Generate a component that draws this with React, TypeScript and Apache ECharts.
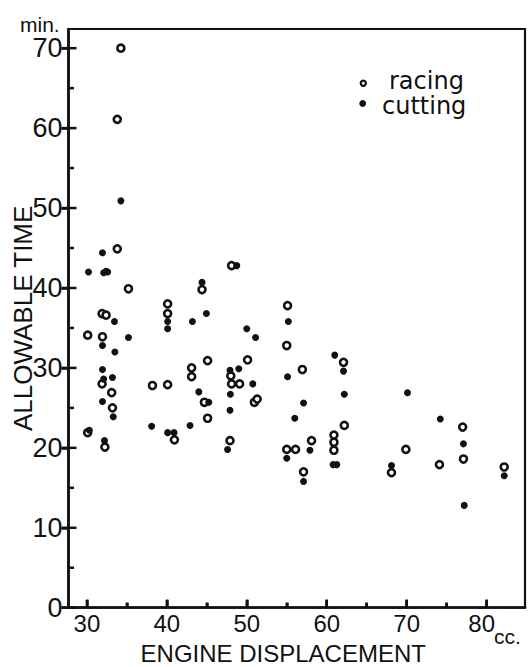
import { useEffect, useRef } from "react";
import * as echarts from "echarts";

// Engine displacement (cc) and allowable working time (min) per saw model
const racingDisplacement = [
  34.25, 33.8, 33.8, 35.2, 31.9, 32.4, 30.1, 31.95, 31.9, 33.1, 33.2, 30.1, 32.25,
  38.2, 40.1, 40.1, 40.1, 40.95, 43.1, 43.1, 44.4, 48.1, 55.1, 55.0, 45.1, 50.1,
  48.0, 48.1, 49.1, 44.7, 50.95, 51.3, 45.1, 47.9, 56.95, 55.0, 56.1, 58.1, 57.1,
  62.1, 62.2, 60.9, 60.9, 60.9, 69.9, 68.1, 74.1, 77.0, 77.1, 82.2,
];
const racingTime = [
  70.0, 61.1, 44.9, 39.9, 36.8, 36.6, 34.1, 33.9, 28.0, 26.9, 25.0, 21.9, 20.1,
  27.8, 38.0, 36.8, 27.9, 21.0, 30.0, 28.9, 39.8, 42.8, 37.8, 32.8, 30.9, 31.0,
  29.0, 28.0, 28.0, 25.7, 25.7, 26.1, 23.7, 20.9, 29.8, 19.8, 19.8, 20.9, 17.0,
  30.7, 22.8, 21.6, 20.7, 19.7, 19.8, 16.9, 17.9, 22.6, 18.6, 17.6,
];

const cuttingDisplacement = [
  34.25, 31.95, 30.2, 32.1, 32.4, 32.6, 33.45, 31.95, 35.2, 33.5, 31.95, 32.1, 33.2,
  31.95, 33.3, 30.3, 32.2, 38.1, 40.1, 40.1, 40.1, 40.9, 43.2, 42.9, 44.0, 44.4,
  44.95, 50.0, 51.1, 48.75, 55.2, 47.9, 49.0, 50.75, 47.95, 45.25, 47.9, 47.6, 55.1,
  57.1, 56.0, 55.0, 57.9, 57.1, 61.0, 62.1, 62.2, 60.8, 61.25, 70.1, 68.1, 74.2,
  77.1, 77.2, 82.2,
];
const cuttingTime = [
  50.9, 44.4, 42.0, 41.9, 42.1, 42.0, 35.8, 32.8, 33.8, 32.0, 29.8, 28.6, 28.8,
  25.8, 23.9, 22.2, 20.9, 22.7, 35.8, 34.9, 21.9, 21.9, 35.8, 22.8, 27.0, 40.7,
  36.8, 34.9, 33.8, 42.8, 35.8, 29.7, 29.9, 28.0, 26.7, 25.7, 24.7, 19.8, 28.9,
  25.6, 23.7, 18.7, 19.7, 15.8, 31.6, 29.6, 26.7, 17.9, 17.9, 26.9, 17.8, 23.6,
  20.5, 12.8, 16.5,
];

const xMajorTicks = [30, 40, 50, 60, 70, 80];
const xMinorTicks = [35, 45, 55, 65, 75];
const yMajorTicks = [0, 10, 20, 30, 40, 50, 60, 70];
const yMinorTicks = [5, 15, 25, 35, 45, 55, 65];
const seriesNames = ["racing", "cutting"];

// Plot frame extent in data units
const X_MIN = 27.7;
const X_MAX = 84.8;
const Y_MIN = 0;
const Y_MAX = 72.4;

const WIDTH = 529;
const HEIGHT = 667;
const GRID_LEFT = 68.5;
const GRID_RIGHT = 4;
const GRID_TOP = 29;
const GRID_BOTTOM = 59.3;

// tick mark sizes (px)
const TICK_W = 2.5;
const X_MAJOR_LEN = 8;
const X_MINOR_LEN = 5;
const Y_MAJOR_OUT = 7;
const Y_MAJOR_IN = 8;
const Y_MINOR_IN = 5.5;

const INK = "#111";
const SANS = '"Liberation Sans", Arial, sans-serif';
const LEGEND_FONT = '"DejaVu Sans", "Liberation Sans", sans-serif';

const zip = (xs: number[], ys: number[]) => xs.map((x, i) => [x, ys[i]]);

// Linear scales of the data grid (same mapping ECharts uses for grid 0)
const pxPerX = (WIDTH - GRID_LEFT - GRID_RIGHT) / (X_MAX - X_MIN);
const pxPerY = (HEIGHT - GRID_TOP - GRID_BOTTOM) / (Y_MAX - Y_MIN);
const xToPx = (x: number) => GRID_LEFT + (x - X_MIN) * pxPerX;
const yToPx = (y: number) => HEIGHT - GRID_BOTTOM - (y - Y_MIN) * pxPerY;

// The labelled scale lives on a second grid whose extent is the tick range;
// it is placed so that its pixels line up with the data grid.
const xTickMin = xMajorTicks[0];
const xTickMax = xMajorTicks[xMajorTicks.length - 1];
const yTickMin = yMajorTicks[0];
const yTickMax = yMajorTicks[yMajorTicks.length - 1];
const scaleLeft = xToPx(xTickMin);
const scaleRight = WIDTH - xToPx(xTickMax);
const scaleTop = yToPx(yTickMax);
const scaleBottom = HEIGHT - yToPx(yTickMin);
const yAxisOffset = scaleLeft - GRID_LEFT;

const rect = (x: number, y: number, w: number, h: number) => ({
  type: "rect",
  silent: true,
  z: 100,
  shape: { x, y, width: w, height: h },
  style: { fill: INK },
});

// Tick marks on the frame edges
const tickGraphics = [
  ...xMajorTicks.map((v) =>
    rect(xToPx(v) - TICK_W / 2, yToPx(Y_MIN) - X_MAJOR_LEN, TICK_W, X_MAJOR_LEN),
  ),
  ...xMinorTicks.map((v) =>
    rect(xToPx(v) - TICK_W / 2, yToPx(Y_MIN) - X_MINOR_LEN, TICK_W, X_MINOR_LEN),
  ),
  ...yMajorTicks.map((v) =>
    rect(GRID_LEFT - Y_MAJOR_OUT, yToPx(v) - TICK_W / 2, Y_MAJOR_OUT + Y_MAJOR_IN, TICK_W),
  ),
  ...yMinorTicks.map((v) => rect(GRID_LEFT, yToPx(v) - TICK_W / 2, Y_MINOR_IN, TICK_W)),
];

const textGraphics = [
  // unit of the time axis
  {
    type: "text",
    left: 20,
    top: 14,
    silent: true,
    style: { text: "min.", fontFamily: SANS, fontSize: 21, lineHeight: 16, fill: INK },
  },
  // unit after the last displacement label
  {
    type: "text",
    left: 494,
    top: 626,
    silent: true,
    style: { text: "cc.", fontFamily: SANS, fontSize: 21, fill: INK },
  },
  // legend
  {
    type: "circle",
    silent: true,
    shape: { cx: 363.3, cy: 83.3, r: 2.6 },
    style: { fill: "#fff", stroke: INK, lineWidth: 2.2 },
  },
  {
    type: "circle",
    silent: true,
    shape: { cx: 362.7, cy: 103.5, r: 3.4 },
    style: { fill: INK },
  },
  {
    type: "text",
    left: 389,
    top: 68.7,
    silent: true,
    style: { text: seriesNames[0], fontFamily: LEGEND_FONT, fontSize: 24, lineHeight: 22, fill: INK },
  },
  {
    type: "text",
    left: 382,
    top: 94,
    silent: true,
    style: { text: seriesNames[1], fontFamily: LEGEND_FONT, fontSize: 24, lineHeight: 22, fill: INK },
  },
];

export default function App() {
  const ref = useRef<HTMLDivElement>(null);

  useEffect(() => {
    if (!ref.current) return;
    const chart = echarts.init(ref.current, undefined, { renderer: "svg" });

    chart.setOption({
      animation: false,
      backgroundColor: "#fff",
      grid: [
        {
          left: GRID_LEFT,
          right: GRID_RIGHT,
          top: GRID_TOP,
          bottom: GRID_BOTTOM,
          containLabel: false,
          outerBoundsMode: "none",
          show: true,
          borderColor: INK,
          borderWidth: 2.2,
          backgroundColor: "transparent",
        },
        {
          left: scaleLeft,
          right: scaleRight,
          top: scaleTop,
          bottom: scaleBottom,
          containLabel: false,
          outerBoundsMode: "none",
          show: false,
        },
      ],
      xAxis: [
        {
          type: "value",
          gridIndex: 0,
          min: X_MIN,
          max: X_MAX,
          position: "bottom",
          name: "ENGINE DISPLACEMENT",
          nameLocation: "middle",
          nameGap: 35.5,
          nameMoveOverlap: false,
          nameTextStyle: {
            fontFamily: SANS,
            fontSize: 24,
            lineHeight: 20,
            color: INK,
            padding: [0, 27, 0, 0],
          },
          axisLine: { show: true, onZero: false, lineStyle: { color: INK, width: 2.7 } },
          axisTick: { show: false },
          axisLabel: { show: false },
          splitLine: { show: false },
        },
        {
          type: "value",
          gridIndex: 1,
          min: xTickMin,
          max: xTickMax,
          interval: xMajorTicks[1] - xMajorTicks[0],
          position: "bottom",
          axisLine: { show: false, onZero: false },
          axisTick: {
            show: true,
            inside: true,
            length: X_MAJOR_LEN,
            lineStyle: { color: INK, width: TICK_W },
          },
          minorTick: {
            show: true,
            splitNumber: 2,
            length: X_MINOR_LEN,
            lineStyle: { color: INK, width: TICK_W },
          },
          axisLabel: {
            margin: 4,
            fontFamily: SANS,
            fontSize: 24,
            color: INK,
            formatter: (v: number) => (v === xTickMax ? `{last|${v}}` : `${v}`),
            rich: {
              last: { fontFamily: SANS, fontSize: 24, color: INK, padding: [0, 10, 0, 0] },
            },
          },
          splitLine: { show: false },
        },
      ],
      yAxis: [
        {
          type: "value",
          gridIndex: 0,
          min: Y_MIN,
          max: Y_MAX,
          position: "left",
          name: "ALLOWABLE TIME",
          nameLocation: "middle",
          nameRotate: 90,
          nameGap: 33,
          nameMoveOverlap: false,
          nameTextStyle: { fontFamily: SANS, fontSize: 26, color: INK },
          axisLine: { show: true, onZero: false, lineStyle: { color: INK, width: 2.7 } },
          axisTick: { show: false },
          axisLabel: { show: false },
          splitLine: { show: false },
        },
        {
          type: "value",
          gridIndex: 1,
          min: yTickMin,
          max: yTickMax,
          interval: yMajorTicks[1] - yMajorTicks[0],
          position: "left",
          offset: yAxisOffset,
          axisLine: { show: false, onZero: false },
          axisTick: {
            show: true,
            inside: false,
            length: Y_MAJOR_OUT,
            lineStyle: { color: INK, width: TICK_W },
          },
          axisLabel: { margin: 6, fontFamily: SANS, fontSize: 27, lineHeight: 20, color: INK },
          splitLine: { show: false },
        },
      ],
      series: [
        {
          name: seriesNames[0],
          type: "scatter",
          xAxisIndex: 0,
          yAxisIndex: 0,
          symbol: "circle",
          symbolSize: 7,
          itemStyle: { color: "#fff", borderColor: INK, borderWidth: 2.6, opacity: 1 },
          emphasis: { disabled: true },
          silent: true,
          z: 3,
          data: zip(racingDisplacement, racingTime),
        },
        {
          name: seriesNames[1],
          type: "scatter",
          xAxisIndex: 0,
          yAxisIndex: 0,
          symbol: "circle",
          symbolSize: 7,
          itemStyle: { color: INK, opacity: 1 },
          emphasis: { disabled: true },
          silent: true,
          z: 4,
          data: zip(cuttingDisplacement, cuttingTime),
        },
      ],
      graphic: { elements: [...textGraphics, ...tickGraphics] },
    });

    return () => chart.dispose();
  }, []);

  return (
    <div
      ref={ref}
      style={{ position: "absolute", left: 0, top: 0, width: WIDTH, height: HEIGHT, background: "#fff" }}
    />
  );
}
